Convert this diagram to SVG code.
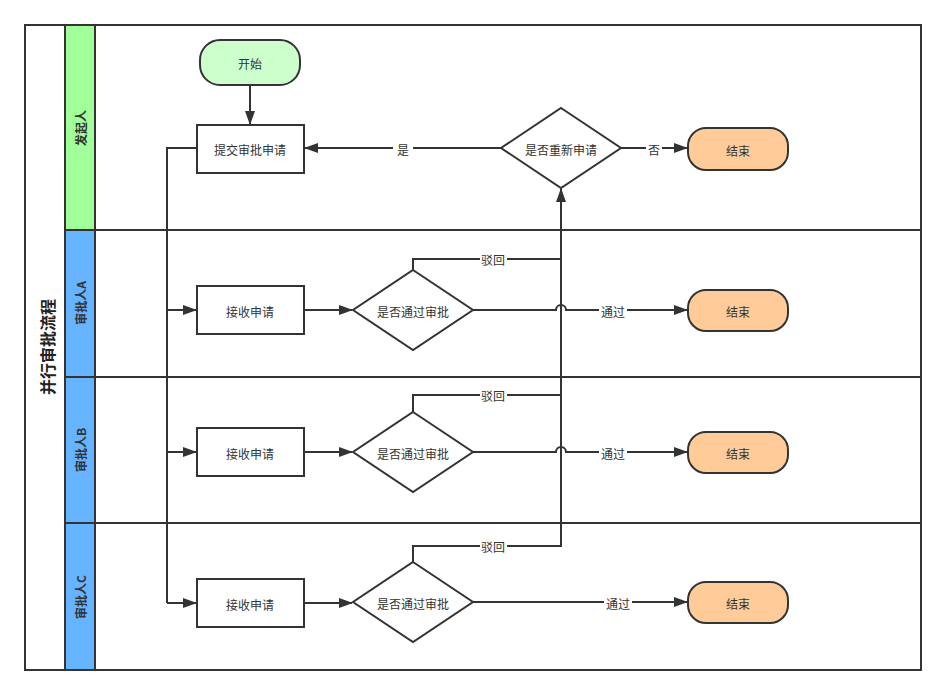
<svg xmlns="http://www.w3.org/2000/svg" width="947" height="696" viewBox="0 0 947 696">
<defs>
<marker id="arr" viewBox="0 0 14 10" refX="13" refY="5" markerWidth="14" markerHeight="10" markerUnits="userSpaceOnUse" orient="auto">
<path d="M0,0 L14,5 L0,10 Z" fill="#333"/>
</marker>
<style>
.frame{fill:none;stroke:#333;stroke-width:2}
.lane{stroke:#333;stroke-width:2}
.box{fill:#fff;stroke:#333;stroke-width:2}
.start{fill:#ccffcc;stroke:#333;stroke-width:2}
.end{fill:#ffcc99;stroke:#333;stroke-width:2}
.t{font-family:"Noto Sans CJK SC","Liberation Sans",sans-serif;font-size:12px;fill:#333;text-anchor:middle;dominant-baseline:central}
.tb{font-family:"Noto Sans CJK SC","Liberation Sans",sans-serif;font-size:12px;font-weight:bold;fill:#333;text-anchor:middle;dominant-baseline:central}
.title{font-family:"Noto Sans CJK SC","Liberation Sans",sans-serif;font-size:16px;font-weight:bold;fill:#222;text-anchor:middle;dominant-baseline:central}
.c{fill:none;stroke:#333;stroke-width:2}
.ca{fill:none;stroke:#333;stroke-width:2;marker-end:url(#arr)}
.lb{fill:#fff}
</style>
</defs>
<rect x="0" y="0" width="947" height="696" fill="#fff"/>
<g id="pool">
<rect x="65" y="25" width="30" height="205" fill="#a0ff99"/>
<rect x="65" y="230" width="30" height="440" fill="#66b3ff"/>
<rect class="frame" x="25" y="25" width="896" height="645"/>
<line class="lane" x1="65" y1="25" x2="65" y2="670"/>
<line class="lane" x1="95" y1="25" x2="95" y2="670"/>
<line class="lane" x1="65" y1="230" x2="921" y2="230"/>
<line class="lane" x1="65" y1="377" x2="921" y2="377"/>
<line class="lane" x1="65" y1="523" x2="921" y2="523"/>
<text class="title" transform="translate(47,347) rotate(-90)">并行审批流程</text>
<text class="tb" transform="translate(80,128) rotate(-90)">发起人</text>
<text class="tb" transform="translate(80,303) rotate(-90)">审批人A</text>
<text class="tb" transform="translate(80,450) rotate(-90)">审批人B</text>
<text class="tb" transform="translate(80,597) rotate(-90)">审批人C</text>
</g>
<g id="connectors">
<path class="ca" d="M250,85 V124"/>
<path class="ca" d="M501,148 H305"/>
<path class="ca" d="M621,148 H687"/>
<path class="c" d="M197,148 H167 V603"/>
<path class="ca" d="M167,310 H196"/>
<path class="ca" d="M167,452 H196"/>
<path class="ca" d="M167,603 H196"/>
<path class="ca" d="M304,310 H352"/>
<path class="ca" d="M304,452 H352"/>
<path class="ca" d="M304,603 H352"/>
<path class="ca" d="M473,310 H556 A5,5 0 0 1 566,310 H687"/>
<path class="ca" d="M473,452 H556 A5,5 0 0 1 566,452 H687"/>
<path class="ca" d="M473,602 H687"/>
<path class="c" d="M413,270 V259 H561"/>
<path class="c" d="M413,412 V395 H561"/>
<path class="c" d="M413,562 V546 H561 V259"/>
<path class="ca" d="M561,259 V189"/>
<rect class="lb" x="393" y="141" width="20" height="15"/>
<text class="t" x="403" y="149">是</text>
<rect class="lb" x="646" y="141" width="16" height="15"/>
<text class="t" x="654" y="149">否</text>
<rect class="lb" x="480" y="252" width="27" height="15"/>
<text class="t" x="493" y="259">驳回</text>
<rect class="lb" x="480" y="388" width="27" height="15"/>
<text class="t" x="493" y="395">驳回</text>
<rect class="lb" x="480" y="539" width="27" height="15"/>
<text class="t" x="493" y="546">驳回</text>
<rect class="lb" x="599" y="303" width="28" height="15"/>
<text class="t" x="613" y="311">通过</text>
<rect class="lb" x="599" y="445" width="28" height="15"/>
<text class="t" x="613" y="453">通过</text>
<rect class="lb" x="604" y="595" width="28" height="15"/>
<text class="t" x="618" y="603">通过</text>
</g>
<g id="start">
<rect class="start" x="200" y="40" width="100" height="45" rx="20" ry="20"/>
<text class="t" x="250" y="63">开始</text>
</g>
<g id="submit">
<rect class="box" x="197" y="125" width="107" height="48"/>
<text class="t" x="250" y="149">提交审批申请</text>
</g>
<g id="reapply">
<polygon class="box" points="561,108 621,148 561,188 501,148"/>
<text class="t" x="561" y="149">是否重新申请</text>
</g>
<g id="end0">
<rect class="end" x="688" y="128" width="100" height="42" rx="18" ry="18"/>
<text class="t" x="738" y="150">结束</text>
</g>
<g id="recvA">
<rect class="box" x="197" y="286" width="107" height="48"/>
<text class="t" x="250" y="311">接收申请</text>
</g>
<g id="decA">
<polygon class="box" points="413,270 473,310 413,350 353,310"/>
<text class="t" x="413" y="311">是否通过审批</text>
</g>
<g id="endA">
<rect class="end" x="688" y="290" width="100" height="41" rx="18" ry="18"/>
<text class="t" x="738" y="311">结束</text>
</g>
<g id="recvB">
<rect class="box" x="197" y="428" width="107" height="48"/>
<text class="t" x="250" y="453">接收申请</text>
</g>
<g id="decB">
<polygon class="box" points="413,412 473,452 413,492 353,452"/>
<text class="t" x="413" y="453">是否通过审批</text>
</g>
<g id="endB">
<rect class="end" x="688" y="432" width="100" height="41" rx="18" ry="18"/>
<text class="t" x="738" y="453">结束</text>
</g>
<g id="recvC">
<rect class="box" x="197" y="579" width="107" height="48"/>
<text class="t" x="250" y="604">接收申请</text>
</g>
<g id="decC">
<polygon class="box" points="413,562 473,602 413,642 353,602"/>
<text class="t" x="413" y="603">是否通过审批</text>
</g>
<g id="endC">
<rect class="end" x="688" y="582" width="100" height="41" rx="18" ry="18"/>
<text class="t" x="738" y="603">结束</text>
</g>
</svg>
